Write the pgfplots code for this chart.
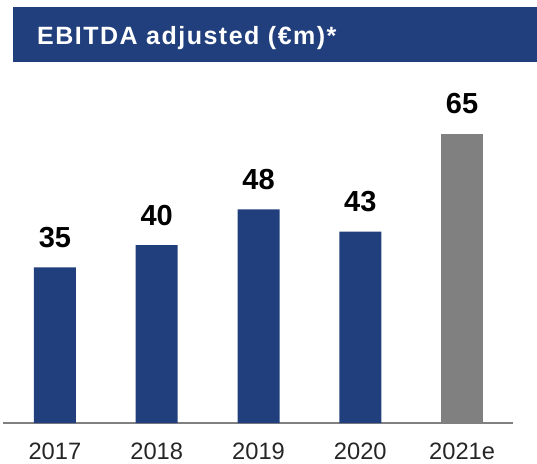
\documentclass[border=0pt]{standalone}
\usepackage{fontspec}
\setmainfont{Liberation Sans}
\newfontfamily\titlefont[LetterSpace=6]{Liberation Sans}
\usepackage{pgfplots}
\pgfplotsset{compat=1.18}
\definecolor{navy}{HTML}{213F7D}
\definecolor{estgray}{HTML}{808080}
\begin{document}
\begin{tikzpicture}[x=1pt,y=1pt]
\useasboundingbox (0,0) rectangle (537,463);
% title banner
\fill[navy] (13,401) rectangle (537,456);
\node[anchor=base west, inner sep=0, text=white,
      font=\titlefont\fontsize{25}{30}\selectfont\bfseries] at (37,418) {EBITDA adjusted (€m)*};
\begin{axis}[
    at={(3pt,40pt)}, anchor=south west,
    scale only axis,
    width=510pt, height=356pt,
    ymin=0, ymax=80,
    xmin=-0.51, xmax=4.5,
    hide y axis,
    axis x line*=bottom,
    x axis line style={draw=estgray, line width=1.2pt},
    xtick={0,1,2,3,4},
    xticklabels={2017,2018,2019,2020,2021e},
    major tick length=0pt,
    xticklabel style={anchor=base, inner sep=0pt, yshift=-36pt,
                      font=\fontsize{23.7}{28}\selectfont, text=black!85},
    ybar, bar width=42pt, bar shift=0pt,
    /pgf/number format/assume math mode=true,
    nodes near coords,
    nodes near coords style={anchor=base, inner sep=0pt, yshift=20pt,
                             font=\fontsize{29}{34}\selectfont\bfseries, text=black},
  ]
  \addplot[fill=navy, draw=none] coordinates {(0,35) (1,40) (2,48) (3,43)};
  \addplot[fill=estgray, draw=none] coordinates {(4,65)};
\end{axis}
\end{tikzpicture}
\end{document}
